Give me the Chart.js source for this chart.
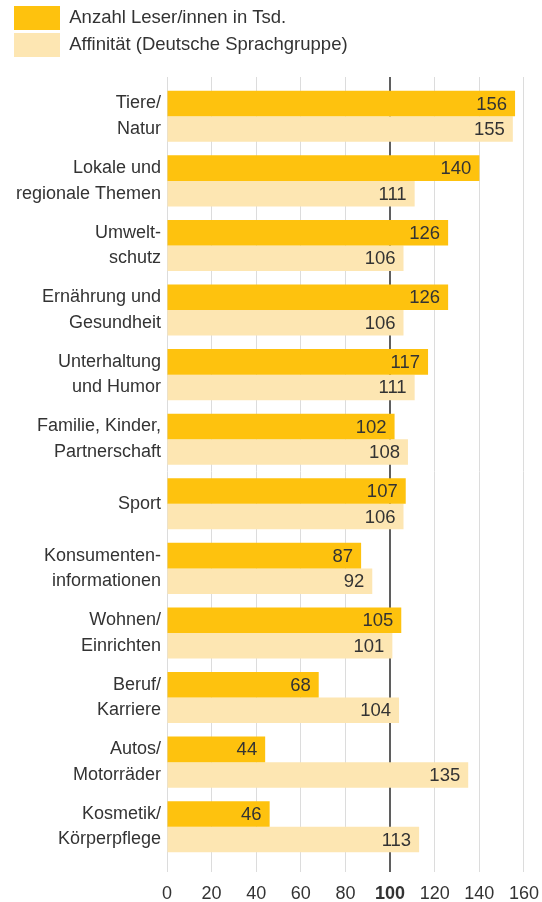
<!DOCTYPE html>
<html>
<head>
<meta charset="utf-8">
<script src="https://cdn.jsdelivr.net/npm/chart.js@4/dist/chart.umd.min.js"></script>
<style>
  body { margin: 0; background: #fff; }
  #wrap { width: 542px; height: 902px; }
</style>
</head>
<body>
<div id="wrap"><canvas id="chart"></canvas></div>
<script>
// categories (multi-line labels as in the original)
const categories = [
    ['Tiere/', 'Natur'],
    ['Lokale und', 'regionale Themen'],
    ['Umwelt-', 'schutz'],
    ['Ernährung und', 'Gesundheit'],
    ['Unterhaltung', 'und Humor'],
    ['Familie, Kinder,', 'Partnerschaft'],
    'Sport',
    ['Konsumenten-', 'informationen'],
    ['Wohnen/', 'Einrichten'],
    ['Beruf/', 'Karriere'],
    ['Autos/', 'Motorräder'],
    ['Kosmetik/', 'Körperpflege']
];

// series values
const leser = [156, 140, 126, 126, 117, 102, 107, 87, 105, 68, 44, 46];
const affinitaet = [155, 111, 106, 106, 111, 108, 106, 92, 101, 104, 135, 113];

// x axis ticks
const tickMin = 0;
const tickMax = 160;
const tickStep = 20;
const refValue = 100;

const FONT = "'Liberation Sans', Arial, sans-serif";
const TEXT = '#333333';

function gridColor(ctx) {
    return ctx.tick && ctx.tick.value === refValue ? '#5f5f5f' : '#dcdcdc';
}
function gridWidth(ctx) {
    return ctx.tick && ctx.tick.value === refValue ? 2 : 1;
}

//write the numbers inside the bar ends
const valueLabels = {
    id: 'valueLabels',
    afterDatasetsDraw(chart) {
        const ctx = chart.ctx;
        ctx.save();
        ctx.font = '18.5px ' + FONT;
        ctx.fillStyle = TEXT;
        ctx.textAlign = 'right';
        ctx.textBaseline = 'middle';
        chart.data.datasets.forEach((ds, i) => {
            chart.getDatasetMeta(i).data.forEach((bar, j) => {
                ctx.fillText(ds.data[j], bar.x - 8, bar.y + 1);
            });
        });
        ctx.restore();
    }
};

new Chart(document.querySelector('#chart').getContext('2d'), {
    type: 'bar',
    data: {
        labels: categories,
        datasets: [
            {
                label: 'Anzahl Leser/innen in Tsd.',
                data: leser,
                backgroundColor: '#fec20e',
                borderWidth: 0
            },
            {
                label: 'Affinität (Deutsche Sprachgruppe)',
                data: affinitaet,
                backgroundColor: '#fde6b2',
                borderWidth: 0
            }
        ]
    },
    options: {
        indexAxis: 'y',
        responsive: true,
        maintainAspectRatio: false,
        animation: false,
        datasets: {
            bar: { categoryPercentage: 0.79, barPercentage: 1.0 }
        },
        layout: { padding: { left: 11, right: 18, top: 3, bottom: 0 } },
        plugins: {
            tooltip: { enabled: false },
            legend: {
                position: 'top',
                align: 'start',
                labels: {
                    boxWidth: 46,
                    boxHeight: 24,
                    padding: 3,
                    color: TEXT,
                    font: { family: FONT, size: 18.5 }
                }
            }
        },
        scales: {
            x: {
                type: 'linear',
                min: tickMin,
                max: tickMax,
                border: { display: false },
                grid: { color: gridColor, lineWidth: gridWidth, tickLength: 13 },
                afterFit: s => { s.height = 43; },
                ticks: {
                    stepSize: tickStep,
                    color: TEXT,
                    padding: 3,
                    font: ctx => ({
                        family: FONT,
                        size: 18,
                        lineHeight: 2.14,
                        weight: ctx.tick && ctx.tick.value === refValue ? 'bold' : 'normal'
                    })
                }
            },
            x2: {
                type: 'linear',
                position: 'top',
                min: tickMin,
                max: tickMax,
                border: { display: false },
                grid: { color: gridColor, lineWidth: gridWidth, tickLength: 7, drawOnChartArea: false },
                afterFit: s => { s.height = 17; },
                ticks: { display: false, stepSize: tickStep }
            },
            y: {
                border: { display: false },
                grid: { display: false, drawTicks: false, tickLength: 0 },
                afterFit: s => { s.width = 156; },
                ticks: {
                    color: TEXT,
                    padding: 6,
                    autoSkip: false,
                    font: { family: FONT, size: 18, lineHeight: 1.42 }
                }
            }
        }
    },
    plugins: [valueLabels]
});
</script>
</body>
</html>
